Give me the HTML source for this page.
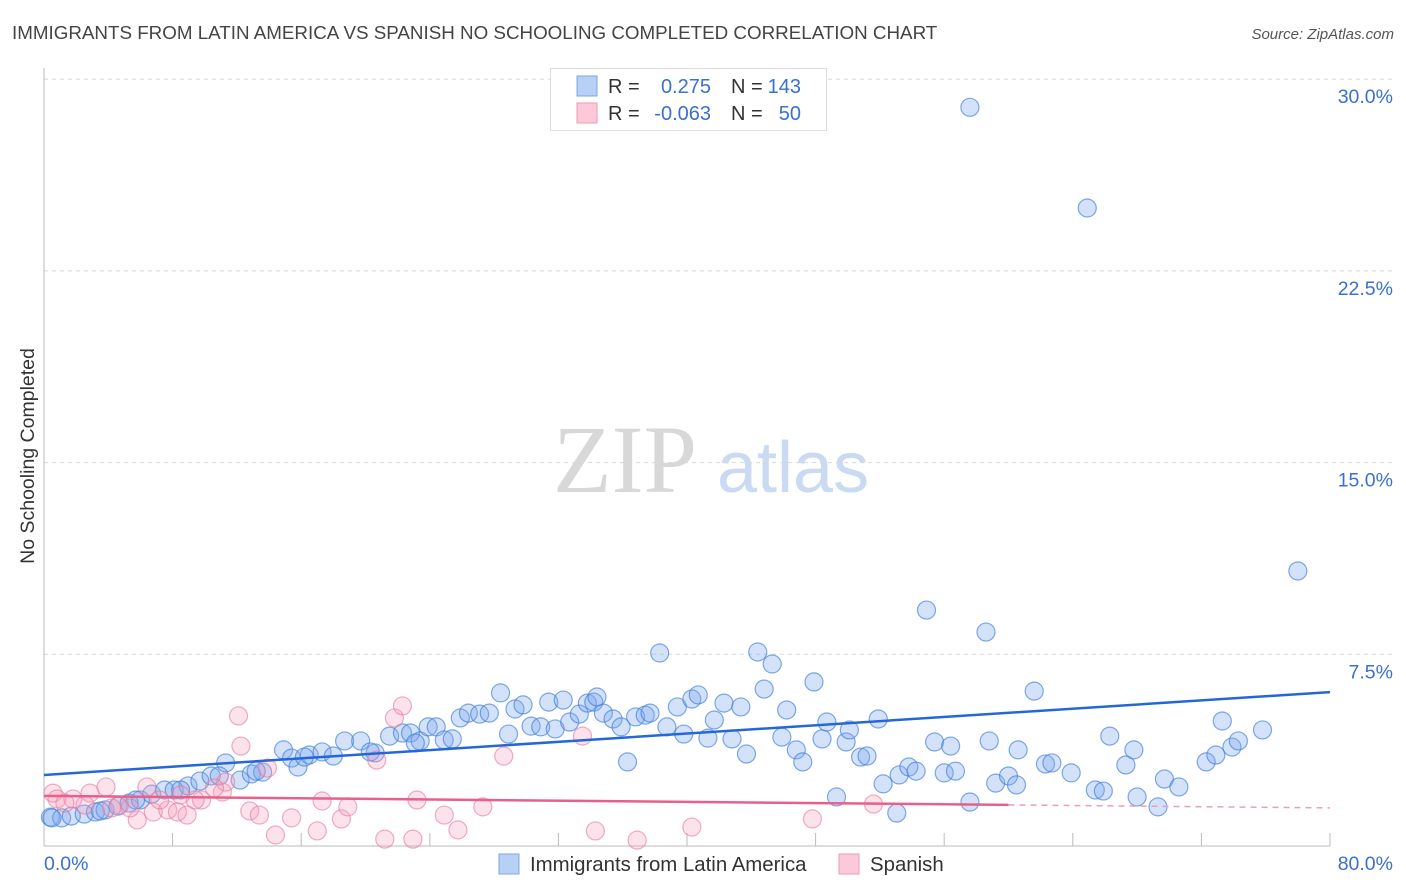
<!DOCTYPE html>
<html><head><meta charset="utf-8"><style>
body{margin:0;background:#fff;font-family:"Liberation Sans",sans-serif;}
#wrap{position:relative;width:1406px;height:892px;overflow:hidden;}
</style></head><body>
<div id="wrap">
<svg id="svg" width="1406" height="892" xmlns="http://www.w3.org/2000/svg" font-family="Liberation Sans, sans-serif">
<text x="12" y="39" font-size="18.8" fill="#444">IMMIGRANTS FROM LATIN AMERICA VS SPANISH NO SCHOOLING COMPLETED CORRELATION CHART</text>
<text x="1394" y="39" font-size="15" fill="#555" font-style="italic" text-anchor="end">Source: ZipAtlas.com</text>
<text transform="translate(34,456) rotate(-90)" font-size="19.5" fill="#333" text-anchor="middle">No Schooling Completed</text>
<g>
<text x="553" y="492" font-size="96" font-family="Liberation Serif, serif" fill="#d8d8d8">ZIP</text>
<text x="717" y="492" font-size="72" fill="#c9daf2">atlas</text>
</g>
<g id="grid"></g>
<g id="axes"></g>
<g id="pts"></g>
<g id="lines"></g>
<g>
<rect x="550.5" y="68.5" width="276" height="62" fill="#fff" stroke="#ddd"/>
<rect x="577" y="76" width="20" height="20" fill="#b8d0f5" stroke="#7ea6e6"/>
<rect x="577" y="103" width="20" height="20" fill="#fbc9d8" stroke="#ef9ab5"/>
<text x="608" y="93" font-size="20" fill="#333">R =</text>
<text x="711" y="93" font-size="20" fill="#3a70d0" text-anchor="end">0.275</text>
<text x="731" y="93" font-size="20" fill="#333">N =</text>
<text x="801" y="93" font-size="20" fill="#3a70d0" text-anchor="end">143</text>
<text x="608" y="120" font-size="20" fill="#333">R =</text>
<text x="711" y="120" font-size="20" fill="#3a70d0" text-anchor="end">-0.063</text>
<text x="731" y="120" font-size="20" fill="#333">N =</text>
<text x="801" y="120" font-size="20" fill="#3a70d0" text-anchor="end">50</text>
</g>
<g>
<rect x="499" y="854" width="20" height="20" fill="#b8d0f5" stroke="#7ea6e6"/>
<text x="530" y="871" font-size="20.4" fill="#333">Immigrants from Latin America</text>
<rect x="839" y="854" width="20" height="20" fill="#fbc9d8" stroke="#ef9ab5"/>
<text x="870" y="871" font-size="20.4" fill="#333">Spanish</text>
</g>
<text x="44" y="870" font-size="19.5" fill="#3a70d0">0.0%</text>
<text x="1393" y="870" font-size="19.5" fill="#3a70d0" text-anchor="end">80.0%</text>
</svg>
</div>
<script>
const yTicks=[7.5,15,22.5,30];
const yTickLabels=["7.5%","15.0%","22.5%","30.0%"];
const xTicks=[0,8,16,24,32,40,48,56,64,72,80];
const blueX=[0.4,1.1,1.7,2.5,3.2,3.8,4.6,5.3,6.0,6.7,7.5,8.1,8.96,9.7,10.4,11.3,12.2,12.9,13.6,14.9,15.4,15.8,16.5,17.3,18.0,18.7,19.7,20.6,21.5,22.3,22.8,23.4,23.9,24.4,24.9,25.4,25.9,26.4,27.1,27.7,28.4,28.9,29.3,29.8,30.3,30.9,31.4,31.8,32.3,32.7,33.3,33.8,34.2,34.8,35.4,35.9,36.3,36.8,37.4,37.7,38.3,38.75,39.4,39.8,40.3,40.7,41.3,41.7,42.3,42.8,43.35,43.7,44.4,44.8,45.3,45.9,46.2,46.8,47.2,47.9,48.4,48.7,49.3,49.9,50.1,50.8,51.2,51.9,52.2,53.05,53.2,53.8,54.25,54.9,55.4,56.0,56.4,56.7,57.6,57.6,58.6,58.8,59.2,60.0,60.5,60.6,61.6,62.3,62.7,63.9,64.9,65.4,65.9,66.3,67.3,67.8,68.0,69.3,69.7,70.6,72.3,72.9,73.3,73.9,74.3,75.8,78.0,0.5,3.5,5.7,8.5,10.9,13.2,16.2,20.3,23.1,34.4];
const blueY=[1.13,1.10,1.17,1.25,1.33,1.41,1.56,1.68,1.80,2.03,2.19,2.19,2.35,2.54,2.74,3.25,2.58,2.82,2.89,3.76,3.44,3.09,3.56,3.68,3.52,4.11,4.11,3.64,4.30,4.42,4.42,4.11,4.66,4.66,4.15,4.19,5.01,5.20,5.16,5.20,5.99,4.38,5.36,5.52,4.69,4.66,5.63,4.58,5.71,4.85,5.16,5.59,5.63,5.20,4.97,4.66,3.29,5.05,5.12,5.20,7.55,4.66,5.44,4.38,5.75,5.91,4.22,4.93,5.59,4.19,5.44,3.60,7.59,6.14,7.12,4.26,5.32,3.76,3.29,6.42,4.19,4.85,1.92,4.07,4.54,3.48,3.52,4.97,2.43,1.29,2.78,3.09,2.93,9.23,4.07,2.86,3.91,2.93,1.72,28.9,8.37,4.11,2.46,2.74,2.39,3.76,6.06,3.21,3.25,2.86,24.96,2.19,2.15,4.30,3.17,3.76,1.92,1.53,2.62,2.31,3.29,3.56,4.89,3.87,4.11,4.54,10.76,1.10,1.37,1.80,2.19,2.74,2.93,3.48,3.68,4.03,5.83];
const pinkX=[0.56,0.81,1.8,2.86,3.86,6.4,5.8,6.8,7.7,8.3,8.9,9.8,11.1,12.1,12.25,12.8,13.4,14.4,15.4,17.0,17.3,18.5,18.9,20.7,21.2,21.8,22.3,22.95,23.2,24.9,25.75,27.3,28.6,33.5,34.3,36.9,40.3,47.8,51.6,4.7,5.35,7.2,9.4,11.3,13.9,2.55,4.2,1.3,8.5,10.6];
const pinkY=[2.07,1.84,1.84,2.07,2.31,2.31,1.02,1.33,1.41,1.33,1.21,1.80,2.11,5.09,3.91,1.37,1.21,0.43,1.10,0.59,1.76,1.06,1.53,3.36,0.27,5.01,5.48,0.27,1.80,1.21,0.63,1.53,3.52,4.30,0.59,0.23,0.74,1.06,1.64,1.60,1.49,1.80,1.80,2.5,3.05,1.60,1.49,1.68,2.0,2.27];
const blueTrend=[2.78,6.02];
const pinkTrend=[1.96,1.49];
const pinkSolidEnd=60;

const NS="http://www.w3.org/2000/svg";
const X=v=>44+v/80*1286;
const Y=v=>846-v/7.5*191.7;
function mk(tag,attrs,parent){const e=document.createElementNS(NS,tag);for(const k in attrs)e.setAttribute(k,attrs[k]);parent.appendChild(e);return e;}
const grid=document.getElementById('grid'),axes=document.getElementById('axes'),pts=document.getElementById('pts'),lines=document.getElementById('lines');
yTicks.forEach((t,i)=>{
  const l=mk('line',{x1:44,x2:1393,y1:Y(t),y2:Y(t),stroke:'#d8d8d8','stroke-dasharray':'4,4'},grid);
  
  
  const tx=mk('text',{x:1393,y:Y(t)+24,'font-size':19.5,fill:'#3a70d0','text-anchor':'end'},grid);
  tx.textContent=yTickLabels[i];
  
  
});
const ya=mk('line',{x1:44,x2:44,y1:68,y2:846,stroke:'#bbb'},axes);


const xa=mk('line',{x1:44,x2:1330,y1:846,y2:846,stroke:'#bbb'},axes);


xTicks.forEach(t=>{
  const l=mk('line',{x1:X(t),x2:X(t),y1:846,y2:833,stroke:'#bbb'},axes);
  
  
});
blueX.forEach((v,i)=>{
  const c=mk('circle',{cx:X(v),cy:Y(blueY[i]),r:9,fill:'rgba(120,165,235,0.32)',stroke:'rgba(60,125,220,0.65)','stroke-width':1.2},pts);
  
  
});
pinkX.forEach((v,i)=>{
  const c=mk('circle',{cx:X(v),cy:Y(pinkY[i]),r:9,fill:'rgba(245,160,190,0.3)',stroke:'rgba(230,120,155,0.6)','stroke-width':1.2},pts);
  
  
});
const bl=mk('line',{x1:X(0),x2:X(80),y1:Y(blueTrend[0]),y2:Y(blueTrend[1]),stroke:'#2468d8','stroke-width':2.5},lines);


const pAt=x=>pinkTrend[0]+(pinkTrend[1]-pinkTrend[0])*x/80;
const pl=mk('line',{x1:X(0),x2:X(pinkSolidEnd),y1:Y(pAt(0)),y2:Y(pAt(pinkSolidEnd)),stroke:'#e8608a','stroke-width':2.5},lines);


const pd=mk('line',{x1:X(pinkSolidEnd),x2:X(80),y1:Y(pAt(pinkSolidEnd)),y2:Y(pAt(80)),stroke:'#e8a0b8','stroke-width':1.5,'stroke-dasharray':'6,5'},lines);


</script>
</body></html>
